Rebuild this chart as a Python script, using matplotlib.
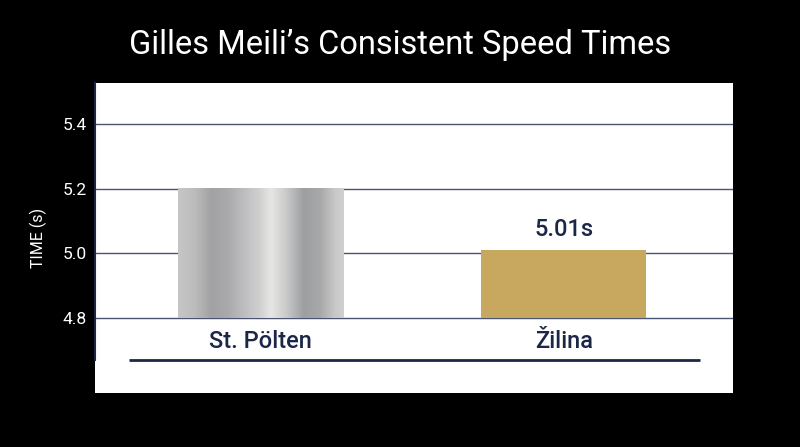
import numpy as np
import matplotlib
matplotlib.use("Agg")
import matplotlib.pyplot as plt
from matplotlib.colors import LinearSegmentedColormap

# data
venues = ["St. Pölten", "Žilina"]
times = [5.2, 5.01]
value_labels = ["", "5.01s"]
y_ticks = [4.8, 5.0, 5.2, 5.4]

navy = "#1c2748"
grid_c = "#4a5370"
gold = "#c8a75e"

plt.rcParams['font.family'] = ['Roboto', 'DejaVu Sans']

fig = plt.figure(figsize=(8, 4.47), dpi=100, facecolor="black")
# white panel, pixel box 95..733 x 83..393
ax = fig.add_axes([95 / 800, (447 - 393) / 447, 638 / 800, 310 / 447])
ax.set_facecolor("white")

ax.set_yticks(y_ticks)
ax.set_yticklabels([f"{t:.1f}" for t in y_ticks], color="white", fontsize=12.5)
ax.tick_params(axis="y", length=0, pad=6)
ax.set_xticks([])
for y in y_ticks:
    ax.axhline(y, color=grid_c, lw=1, zorder=1)

for s in ["top", "right", "bottom"]:
    ax.spines[s].set_visible(False)
ax.spines["left"].set_color(navy)
ax.spines["left"].set_linewidth(1.5)
ax.spines["left"].set_bounds(4.67, 5.527)

ax.set_ylabel("TIME (s)", color="white", fontsize=11.5, labelpad=11)

base = 4.8
bars = ax.bar(range(len(venues)), [t - base for t in times], bottom=base,
              width=0.545, color=["none", gold], zorder=2)

# brushed silver look for the first bar
silver = LinearSegmentedColormap.from_list("silver", [
    (0.0, "#c6c6c6"), (0.1, "#bcbcbc"), (0.2, "#a2a2a4"), (0.3, "#aaaaac"),
    (0.42, "#c2c2c4"), (0.5, "#d2d2d2"), (0.56, "#e6e6e4"), (0.65, "#cbcbcb"),
    (0.76, "#9c9ea0"), (0.86, "#a9a9a9"), (0.95, "#c9c9c9"), (1.0, "#d0d0d0")])
b = bars[0]
grad = np.linspace(0, 1, 256).reshape(1, -1)
ax.imshow(grad, cmap=silver, aspect="auto", zorder=2,
          extent=[b.get_x(), b.get_x() + b.get_width(), b.get_y(), b.get_y() + b.get_height()])
ax.set_xlim(-0.547, 1.559)
ax.set_ylim(4.568, 5.527)

for i, (v, lab) in enumerate(zip(times, value_labels)):
    if lab:
        ax.text(i, v + 0.028, lab, ha="center", va="bottom", color=navy, fontsize=17, weight="medium")
    ax.text(i, 4.728, venues[i], ha="center", va="center", color=navy, fontsize=17, weight="medium")

# underline beneath the category labels
ax.plot([-0.435, 1.45], [4.67, 4.67], color=navy, lw=2, solid_capstyle="butt", zorder=3)

fig.text(0.5, 1 - 45 / 447, "Gilles Meili’s Consistent Speed Times", ha="center", va="center",
         color="white", fontsize=23.5)

fig.savefig("out.png", dpi=100, facecolor="black")
